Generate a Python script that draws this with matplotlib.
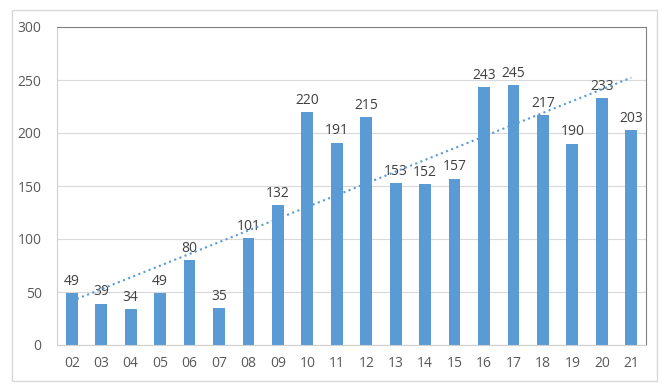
import numpy as np
import matplotlib
matplotlib.use("Agg")
from matplotlib import pyplot as plt
from matplotlib.patches import Rectangle

anos = ['02', '03', '04', '05', '06', '07', '08', '09', '10', '11',
        '12', '13', '14', '15', '16', '17', '18', '19', '20', '21']
valores = [49, 39, 34, 49, 80, 35, 101, 132, 220, 191,
           215, 153, 152, 157, 243, 245, 217, 190, 233, 203]

azul = '#5B9BD5'
cinza_txt = '#595959'

plt.rcParams['font.family'] = ['Open Sans', 'DejaVu Sans']

fig = plt.figure(figsize=(6.65, 3.91), dpi=100)
ax = fig.add_axes([57/665, 46/391, 589/665, 318/391])

x = np.arange(len(anos))
ax.bar(x, valores, width=0.4, color=azul, zorder=2)

for xi, v in zip(x, valores):
    ax.text(xi, v + 4, str(v), ha='center', va='bottom', fontsize=10, color='#404040')

# linha de tendencia linear
coef = np.polyfit(x, valores, 1)
xt = np.array([x[0], x[-1]])
ax.plot(xt, np.polyval(coef, xt), ls=':', color=azul, lw=1.5, zorder=3)

ax.set_xlim(-0.5, len(anos) - 0.5)
ax.set_ylim(0, 300)
ax.set_yticks(range(0, 301, 50))
ax.set_xticks(x)
ax.set_xticklabels(anos)
ax.tick_params(axis='both', length=0, colors=cinza_txt, labelsize=10)
ax.tick_params(axis='y', pad=11)
ax.tick_params(axis='x', pad=8)
ax.grid(axis='y', color='#D9D9D9', lw=0.8, zorder=0)

for lado in ['left', 'bottom']:
    ax.spines[lado].set_color('#D0D0D0')
for lado in ['top', 'right']:
    ax.spines[lado].set_color('#808080')

# moldura externa
fig.patches.append(Rectangle((12/665, 10/391), 645/665, 371/391,
                             transform=fig.transFigure, fill=False,
                             edgecolor='#D9D9D9', lw=1))

fig.savefig('out.png', dpi=100)
